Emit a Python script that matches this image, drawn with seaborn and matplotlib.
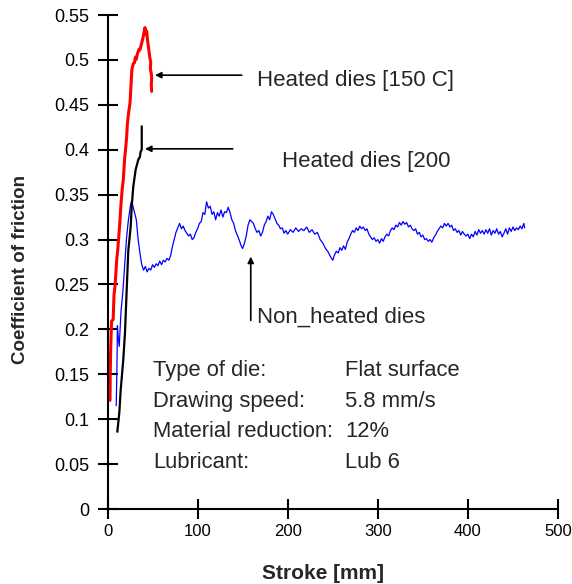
import matplotlib
matplotlib.use("Agg")
import matplotlib.pyplot as plt
import seaborn as sns
import pandas as pd

# Friction traces: stroke [mm] vs coefficient of friction
red_x = [2.8, 3.0, 3.5, 4.5, 6.3, 7.2, 8.5, 10.2, 11.5, 13.0, 13.9, 15.0, 16.5, 17.5,
         19.0, 20.0, 21.3, 22.0, 23.5, 25.0, 26.0, 27.0, 28.6, 30.0, 31.0, 32.0, 33.0,
         34.0, 35.0, 36.0, 37.0, 38.0, 39.0, 40.0, 41.6, 42.5, 43.5, 44.5, 45.5, 46.4,
         47.2, 48.0, 47.6, 48.4, 49.0, 48.6, 49.0]
red_y = [0.121, 0.147, 0.177, 0.209, 0.211, 0.238, 0.250, 0.277, 0.290, 0.310, 0.322,
         0.340, 0.358, 0.366, 0.390, 0.400, 0.415, 0.428, 0.442, 0.452, 0.470, 0.489,
         0.496, 0.497, 0.503, 0.501, 0.506, 0.509, 0.512, 0.511, 0.515, 0.519, 0.523,
         0.528, 0.536, 0.528, 0.532, 0.521, 0.514, 0.507, 0.501, 0.498, 0.490, 0.486,
         0.480, 0.472, 0.465]

black_x = [10.9, 13.1, 14.6, 17.5, 19.4, 21.3, 23.1, 25.7, 26.9, 28.6, 31.3, 34.2,
           36.0, 36.8, 37.4, 38.0, 38.0]
black_y = [0.086, 0.107, 0.132, 0.166, 0.196, 0.244, 0.288, 0.314, 0.337, 0.359,
           0.378, 0.389, 0.392, 0.398, 0.399, 0.400, 0.426]

blue_x = [9.7, 10.5, 11, 12, 13, 14, 15, 17, 19, 21, 23, 25, 26, 27, 28, 30, 32, 34,
          36, 38, 40, 42, 44, 46, 48, 50, 52, 54, 56, 58, 60, 62, 64, 66, 68, 70, 72,
          74, 76, 78, 80, 82, 84, 86, 88, 90, 92, 94, 96, 98, 100, 102, 104, 106, 108,
          110, 112, 114, 116, 118, 120, 122, 124, 126, 128, 130, 132, 134, 136, 138,
          140, 142, 144, 146, 148, 150, 152, 154, 156, 158, 160, 162, 164, 166, 168,
          170, 172, 174, 176, 178, 180, 182, 184, 186, 188, 190, 192, 194, 196, 198,
          200, 203, 206, 209, 212, 215, 218, 221, 224, 227, 230, 233, 236, 239, 242,
          245, 248, 250, 252, 254, 256, 258, 260, 262, 264, 266, 268, 270, 272, 274,
          276, 278, 280, 282, 284, 286, 288, 290, 292, 294, 296, 298, 300, 302, 304,
          306, 308, 310, 312, 314, 316, 318, 320, 322, 324, 326, 328, 330, 332, 334,
          336, 338, 340, 342, 344, 346, 348, 350, 352, 354, 356, 358, 360, 362, 364,
          366, 368, 370, 372, 374, 376, 378, 380, 382, 384, 386, 388, 390, 392, 394,
          396, 398, 400, 402, 404, 406, 408, 410, 412, 414, 416, 418, 420, 422, 424,
          426, 428, 430, 432, 434, 436, 438, 440, 442, 444, 446, 448, 450, 452, 454,
          456, 458, 460, 462, 463]
blue_y = [0.115, 0.160, 0.204, 0.190, 0.181, 0.200, 0.220, 0.241, 0.270, 0.300, 0.320,
          0.335, 0.341, 0.343, 0.338, 0.330, 0.322, 0.300, 0.285, 0.272, 0.266, 0.270,
          0.264, 0.268, 0.266, 0.272, 0.269, 0.273, 0.271, 0.276, 0.272, 0.277, 0.275,
          0.279, 0.277, 0.282, 0.292, 0.300, 0.308, 0.313, 0.318, 0.312, 0.315, 0.310,
          0.307, 0.304, 0.306, 0.300, 0.302, 0.308, 0.312, 0.318, 0.320, 0.330, 0.328,
          0.342, 0.335, 0.337, 0.328, 0.331, 0.322, 0.330, 0.326, 0.333, 0.325, 0.331,
          0.330, 0.336, 0.330, 0.322, 0.318, 0.310, 0.305, 0.300, 0.294, 0.290, 0.296,
          0.304, 0.316, 0.322, 0.320, 0.318, 0.312, 0.308, 0.310, 0.304, 0.308, 0.316,
          0.320, 0.326, 0.322, 0.331, 0.328, 0.323, 0.318, 0.316, 0.312, 0.313, 0.307,
          0.310, 0.306, 0.311, 0.308, 0.313, 0.309, 0.312, 0.310, 0.314, 0.308, 0.311,
          0.306, 0.308, 0.300, 0.296, 0.290, 0.286, 0.280, 0.277, 0.283, 0.287, 0.285,
          0.291, 0.288, 0.293, 0.289, 0.297, 0.301, 0.306, 0.310, 0.308, 0.313, 0.310,
          0.315, 0.312, 0.314, 0.310, 0.312, 0.306, 0.303, 0.300, 0.302, 0.298, 0.300,
          0.296, 0.301, 0.298, 0.303, 0.306, 0.304, 0.310, 0.313, 0.311, 0.316, 0.314,
          0.319, 0.316, 0.320, 0.317, 0.319, 0.314, 0.316, 0.312, 0.310, 0.312, 0.306,
          0.308, 0.303, 0.305, 0.300, 0.301, 0.298, 0.300, 0.297, 0.302, 0.305, 0.309,
          0.312, 0.315, 0.313, 0.318, 0.315, 0.318, 0.314, 0.316, 0.310, 0.312, 0.308,
          0.310, 0.305, 0.309, 0.306, 0.304, 0.306, 0.301, 0.306, 0.303, 0.309, 0.305,
          0.311, 0.307, 0.310, 0.306, 0.311, 0.307, 0.312, 0.305, 0.310, 0.307, 0.312,
          0.306, 0.309, 0.303, 0.307, 0.312, 0.306, 0.313, 0.309, 0.314, 0.310, 0.313,
          0.311, 0.315, 0.312, 0.318, 0.313]

x_ticks = [0, 100, 200, 300, 400, 500]
y_ticks = [0, 0.05, 0.1, 0.15, 0.2, 0.25, 0.3, 0.35, 0.4, 0.45, 0.5, 0.55]
y_tick_labels = ["0", "0.05", "0.1", "0.15", "0.2", "0.25", "0.3", "0.35", "0.4",
                 "0.45", "0.5", "0.55"]

info_keys = ["Type of die:", "Drawing speed:", "Material reduction:", "Lubricant:"]
info_vals = ["Flat surface", "5.8 mm/s", "12%", "Lub 6"]

sns.set_style("ticks")
plt.rcParams["font.family"] = ["Liberation Sans", "DejaVu Sans"]

fig = plt.figure(figsize=(5.72, 5.84), dpi=100)
ax = fig.add_axes([107.5 / 572, 75 / 584, 450.5 / 572, 494 / 584])

blue = pd.DataFrame({"x": blue_x, "y": blue_y})
red = pd.DataFrame({"x": red_x, "y": red_y})
black = pd.DataFrame({"x": black_x, "y": black_y})

sns.lineplot(data=blue, x="x", y="y", sort=False, estimator=None, color="#0000ff",
             linewidth=0.9, ax=ax)
sns.lineplot(data=red, x="x", y="y", sort=False, estimator=None, color="#ff0000",
             linewidth=2.2, ax=ax)
sns.lineplot(data=black, x="x", y="y", sort=False, estimator=None, color="black",
             linewidth=1.6, ax=ax)

ax.set_xlim(0, 500)
ax.set_ylim(0, 0.55)
ax.set_xticks(x_ticks)
ax.set_xticklabels([str(t) for t in x_ticks])
ax.set_yticks(y_ticks)
ax.set_yticklabels(y_tick_labels)
sns.despine(ax=ax)
for side in ("left", "bottom"):
    ax.spines[side].set_linewidth(1.5)
    ax.spines[side].set_color("black")
ax.tick_params(axis="both", direction="inout", length=14, width=1.5, colors="black")
ax.tick_params(axis="y", pad=6, labelsize=13)
ax.tick_params(axis="x", pad=4, labelsize=12)

ax.set_xlabel("Stroke [mm]", fontsize=15, fontweight="bold")
ax.set_ylabel("Coefficient of friction", fontsize=13.5, fontweight="bold")
ax.xaxis.set_label_coords(0.478, -0.112)
ax.yaxis.set_label_coords(-0.175, 0.484)

arrow = dict(arrowstyle="-|>", color="black", lw=1.2, mutation_scale=9,
             shrinkA=0, shrinkB=0)
ax.annotate("", xy=(52.7, 0.483), xytext=(149, 0.483), arrowprops=arrow)
ax.annotate("", xy=(41.6, 0.401), xytext=(139, 0.401), arrowprops=arrow)
ax.annotate("", xy=(159, 0.281), xytext=(159, 0.210), arrowprops=arrow)

ax.text(166, 0.477, "Heated dies [150 C]", fontsize=16, va="center", ha="left")
ax.text(194, 0.387, "Heated dies [200", fontsize=16, va="center", ha="left")
ax.text(166, 0.214, "Non_heated dies", fontsize=16, va="center", ha="left")

info_y = [0.154, 0.120, 0.086, 0.052]
for yy, k, v in zip(info_y, info_keys, info_vals):
    ax.text(50.5, yy, k, fontsize=15.8, va="center", ha="left")
    ax.text(263.6, yy, v, fontsize=15.8, va="center", ha="left")

ax.set_facecolor("white")
fig.patch.set_facecolor("white")
fig.savefig("out.png", dpi=100)
